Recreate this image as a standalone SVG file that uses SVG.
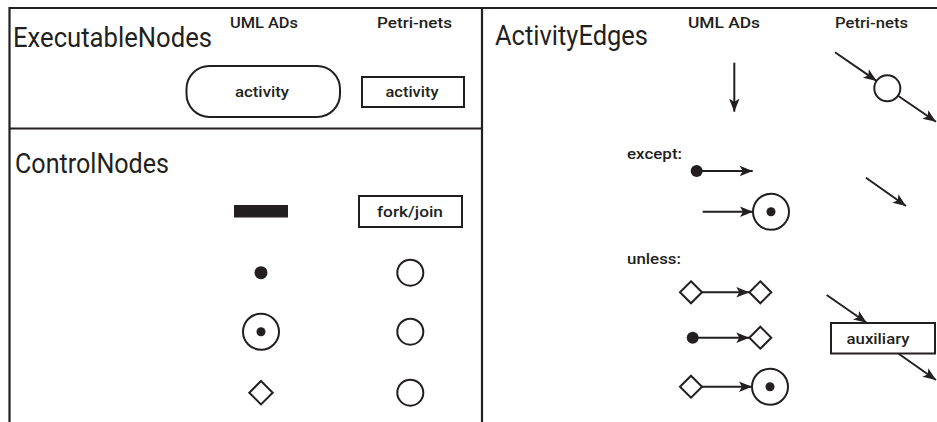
<svg xmlns="http://www.w3.org/2000/svg" width="937" height="422" viewBox="0 0 937 422">
<style>
  .ln{stroke:#231f20;stroke-width:2;fill:none}
  .frame{stroke:#231f20;stroke-width:2.2;fill:none}
  .sh{stroke:#231f20;stroke-width:2;fill:#fff}
  .blk{fill:#231f20;stroke:none}
  text{font-family:Roboto,"Open Sans","Liberation Sans",sans-serif;fill:#231f20}
  .hd{font-size:28px;font-weight:400}
  .sm{font-size:14px;font-weight:500}
  .lb{font-size:15.5px;font-weight:500}
  .ct{text-anchor:middle}
</style>
<defs>
  <marker id="ah" markerUnits="userSpaceOnUse" markerWidth="16" markerHeight="14" viewBox="-14 -7 16 14" refX="0" refY="0" orient="auto">
    <path d="M0,0 L-13,-5.2 L-10,0 L-13,5.2 Z" fill="#231f20"/>
  </marker>
</defs>
<rect width="937" height="422" fill="#fff"/>
<g id="frame">
  <line class="frame" x1="9" y1="8" x2="937" y2="8"/>
  <line class="frame" x1="9.5" y1="7" x2="9.5" y2="422"/>
  <line class="frame" x1="482" y1="8" x2="482" y2="422"/>
  <line class="frame" x1="9" y1="128.5" x2="482" y2="128.5"/>
</g>
<g id="headers">
  <text class="hd" x="13" y="46.7" textLength="199" lengthAdjust="spacingAndGlyphs">ExecutableNodes</text>
  <text class="hd" x="15" y="172.7" textLength="154" lengthAdjust="spacingAndGlyphs">ControlNodes</text>
  <text class="hd" x="495" y="45" textLength="153" lengthAdjust="spacingAndGlyphs">ActivityEdges</text>
  <text class="sm" x="230" y="28" textLength="68" lengthAdjust="spacingAndGlyphs">UML ADs</text>
  <text class="sm" x="377" y="28" textLength="75" lengthAdjust="spacingAndGlyphs">Petri-nets</text>
  <text class="sm" x="688" y="28" textLength="72" lengthAdjust="spacingAndGlyphs">UML ADs</text>
  <text class="sm" x="835" y="28" textLength="73" lengthAdjust="spacingAndGlyphs">Petri-nets</text>
  <text class="lb" x="627" y="158.5" textLength="55" lengthAdjust="spacingAndGlyphs">except:</text>
  <text class="lb" x="627" y="264" textLength="54" lengthAdjust="spacingAndGlyphs">unless:</text>
</g>
<g id="uml-activity">
  <rect class="sh" x="186.5" y="66" width="153.5" height="51" rx="23" ry="23"/>
  <text class="lb ct" x="262" y="97" textLength="54" lengthAdjust="spacingAndGlyphs">activity</text>
</g>
<g id="petri-activity">
  <rect class="sh" x="362" y="77" width="102" height="30"/>
  <text class="lb ct" x="412" y="97" textLength="53" lengthAdjust="spacingAndGlyphs">activity</text>
</g>
<g id="uml-forkjoin">
  <rect class="blk" x="234" y="205" width="54" height="12.5"/>
</g>
<g id="petri-forkjoin">
  <rect class="sh" x="359" y="196" width="103" height="31"/>
  <text class="lb ct" x="410" y="217" textLength="66" lengthAdjust="spacingAndGlyphs">fork/join</text>
</g>
<g id="uml-initial">
  <circle class="blk" cx="261" cy="272.7" r="6.5"/>
</g>
<g id="petri-initial">
  <circle class="sh" cx="410.3" cy="272.7" r="13"/>
</g>
<g id="uml-final">
  <circle class="sh" cx="261" cy="331.7" r="18"/>
  <circle class="blk" cx="261" cy="331.7" r="4.5"/>
</g>
<g id="petri-final">
  <circle class="sh" cx="410.3" cy="331.7" r="13"/>
</g>
<g id="uml-decision">
  <path class="sh" d="M261,381 L272.7,392.7 L261,404.4 L249.3,392.7 Z"/>
</g>
<g id="petri-decision">
  <circle class="sh" cx="410.3" cy="392.7" r="13"/>
</g>
<g id="petri-edge-place">
  <circle class="sh" cx="887.3" cy="88.3" r="13"/>
</g>
<g id="except-initial">
  <circle class="blk" cx="696.7" cy="171" r="6"/>
</g>
<g id="except-final">
  <circle class="sh" cx="771" cy="211.7" r="18"/>
  <circle class="blk" cx="771" cy="211.7" r="4.5"/>
</g>
<g id="unless-row1">
  <path class="sh" d="M691,281.3 L702,292.3 L691,303.3 L680,292.3 Z"/>
  <path class="sh" d="M760.3,281.3 L771.3,292.3 L760.3,303.3 L749.3,292.3 Z"/>
</g>
<g id="unless-row2">
  <circle class="blk" cx="692.7" cy="337.7" r="6"/>
  <path class="sh" d="M760.3,326.7 L771.3,337.7 L760.3,348.7 L749.3,337.7 Z"/>
</g>
<g id="unless-row3">
  <path class="sh" d="M691,375.7 L702,386.7 L691,397.7 L680,386.7 Z"/>
  <circle class="sh" cx="770" cy="386.7" r="18"/>
  <circle class="blk" cx="770" cy="386.7" r="4.5"/>
</g>
<g id="petri-auxiliary">
  <rect class="sh" x="831" y="323" width="104" height="30.5"/>
  <text class="lb ct" x="878" y="344" textLength="63" lengthAdjust="spacingAndGlyphs">auxiliary</text>
</g>
<g id="connectors">
  <line class="ln" x1="734.3" y1="62.7" x2="734.3" y2="111.7" marker-end="url(#ah)"/>
  <line class="ln" x1="835" y1="52.3" x2="876.6" y2="80.9" marker-end="url(#ah)"/>
  <line class="ln" x1="898" y1="95.7" x2="936" y2="121.8" marker-end="url(#ah)"/>
  <line class="ln" x1="696.7" y1="171" x2="752.7" y2="171" marker-end="url(#ah)"/>
  <line class="ln" x1="702.7" y1="211.7" x2="753" y2="211.7" marker-end="url(#ah)"/>
  <line class="ln" x1="866" y1="177.7" x2="906" y2="206" marker-end="url(#ah)"/>
  <line class="ln" x1="702" y1="292.3" x2="749.3" y2="292.3" marker-end="url(#ah)"/>
  <line class="ln" x1="692.7" y1="337.7" x2="749.3" y2="337.7" marker-end="url(#ah)"/>
  <line class="ln" x1="702" y1="386.7" x2="752" y2="386.7" marker-end="url(#ah)"/>
  <line class="ln" x1="826.7" y1="295" x2="866.7" y2="322.7" marker-end="url(#ah)"/>
  <line class="ln" x1="898.3" y1="353.5" x2="936" y2="380" marker-end="url(#ah)"/>
</g>
</svg>
